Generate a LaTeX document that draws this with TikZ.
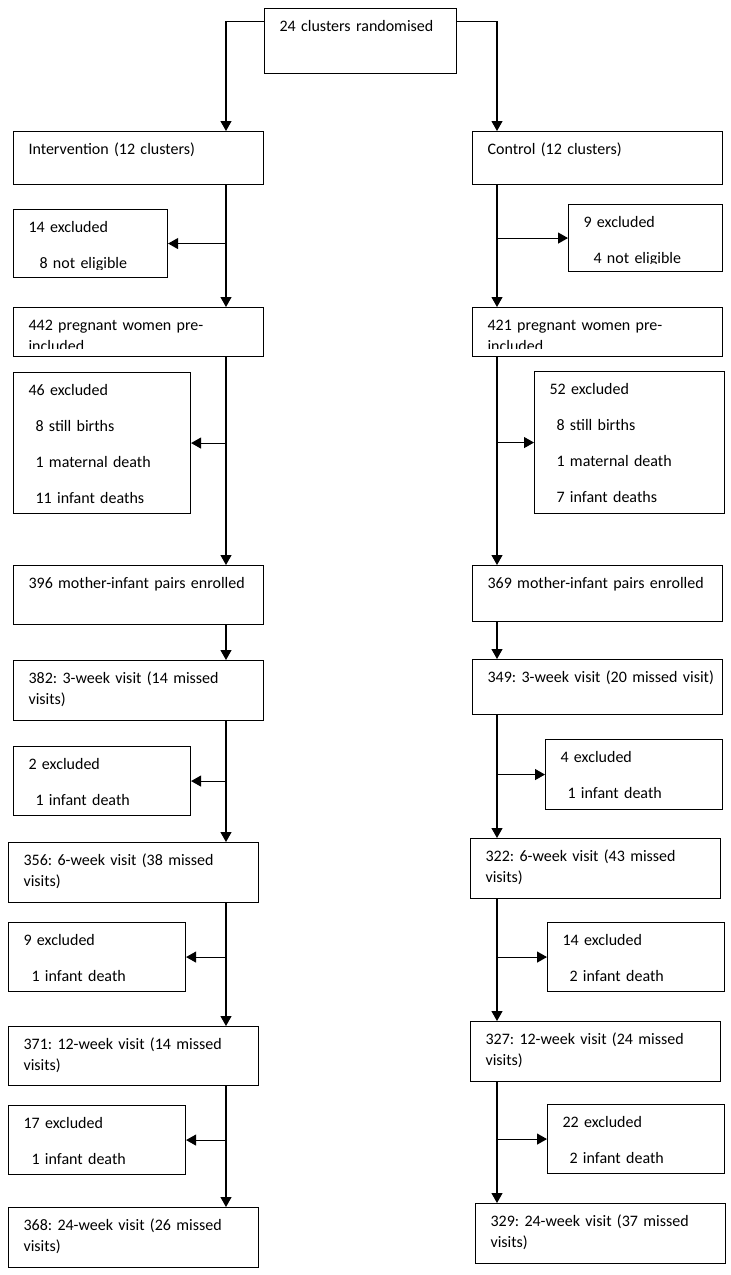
\documentclass[tikz,border=0pt]{standalone}
\usepackage{fontspec}
\setmainfont{Carlito}
\usetikzlibrary{arrows.meta}

\begin{document}
\begin{tikzpicture}[
        x=1pt, y=-1pt,
        font=\fontsize{16}{21}\selectfont\frenchspacing,
        box/.style={rectangle, draw=black, line width=1.1pt, anchor=north west, inner xsep=15pt, inner ysep=0pt, align=left, text height=23pt},
        wide/.style={box, text width=220pt},
        narrow/.style={box, text width=147pt},
        arrow/.style={-{Triangle[width=11pt, length=10pt]}, line width=1.1pt}
    ]
        \useasboundingbox (0,0) rectangle (731,1275);

        % Randomisation
        \node[box, text width=162pt, text depth=42pt] (RAND) at (264,8) {24 clusters randomised};
        \coordinate (LT) at (226,0);
        \coordinate (RT) at (497,0);

        % Intervention arm
        \node[wide, text depth=30pt] (INT) at (13,131) {Intervention (12 clusters)};
        \node[box, text width=124pt, text depth=45pt] (INTX1) at (13,209) {14 excluded\\[15pt]\hspace*{11pt}8 not eligible};
        \node[wide, text depth=26pt] (INTP) at (13,307) {442 pregnant women pre-\\included};
        \node[narrow, text depth=118pt] (INTX2) at (13,372) {46 excluded\\[15pt]\hspace*{7pt}8 still births\\[15pt]\hspace*{7pt}1 maternal death\\[15pt]\hspace*{7pt}11 infant deaths};
        \node[wide, text depth=36pt] (INTE) at (13,565) {396 mother-infant pairs enrolled};
        \node[wide, text depth=37pt] (INT3) at (13,660) {382: 3-week visit (14 missed\\visits)};
        \node[narrow, text depth=46pt] (INTX3) at (13,746) {2 excluded\\[15pt]\hspace*{7pt}1 infant death};
        \node[wide, text depth=37pt] (INT6) at (8,842) {356: 6-week visit (38 missed\\visits)};
        \node[narrow, text depth=46pt] (INTX4) at (8,922) {9 excluded\\[15pt]\hspace*{8pt}1 infant death};
        \node[wide, text depth=36pt] (INT12) at (8,1026) {371: 12-week visit (14 missed\\visits)};
        \node[narrow, text depth=46pt] (INTX5) at (8,1105) {17 excluded\\[15pt]\hspace*{8pt}1 infant death};
        \node[wide, text depth=37pt] (INT24) at (8,1207) {368: 24-week visit (26 missed\\visits)};

        % Control arm
        \node[wide, text depth=30pt] (CTL) at (472,131) {Control (12 clusters)};
        \node[box, text width=124pt, text depth=44pt] (CTLX1) at (568,204) {9 excluded\\[15pt]\hspace*{10pt}4 not eligible};
        \node[wide, text depth=26pt] (CTLP) at (472,307) {421 pregnant women pre-\\included};
        \node[box, text width=160pt, text depth=119pt] (CTLX2) at (534,371) {52 excluded\\[15pt]\hspace*{7pt}8 still births\\[15pt]\hspace*{7pt}1 maternal death\\[15pt]\hspace*{7pt}7 infant deaths};
        \node[wide, text depth=33pt] (CTLE) at (472,565) {369 mother-infant pairs enrolled};
        \node[wide, text depth=32pt] (CTL3) at (472,659) {\mbox{349: 3-week visit (20 missed visit)}};
        \node[narrow, text depth=47pt] (CTLX3) at (545,739) {4 excluded\\[15pt]\hspace*{7pt}1 infant death};
        \node[wide, text depth=37pt] (CTL6) at (470,838) {322: 6-week visit (43 missed\\visits)};
        \node[narrow, text depth=46pt] (CTLX4) at (547,922) {14 excluded\\[15pt]\hspace*{7pt}2 infant death};
        \node[wide, text depth=37pt] (CTL12) at (470,1021) {327: 12-week visit (24 missed\\visits)};
        \node[narrow, text depth=46pt] (CTLX5) at (547,1104) {22 excluded\\[15pt]\hspace*{7pt}2 infant death};
        \node[wide, text depth=37pt] (CTL24) at (475,1203) {329: 24-week visit (37 missed\\visits)};

        % Text cut off at the box bottom
        \fill[white] ([shift={(1pt,1pt)}]INTX1.south west) rectangle ([shift={(-1pt,8.5pt)}]INTX1.south east);
        \fill[white] ([shift={(1pt,1pt)}]CTLX1.south west) rectangle ([shift={(-1pt,8pt)}]CTLX1.south east);
        \fill[white] ([shift={(1pt,1pt)}]INTP.south west) rectangle ([shift={(-1pt,8.5pt)}]INTP.south east);
        \fill[white] ([shift={(1pt,1pt)}]CTLP.south west) rectangle ([shift={(-1pt,8.5pt)}]CTLP.south east);

        % Arrows
        \draw[arrow] ([yshift=19.5pt]RAND.west) -| (INT.north -| LT);
        \draw[arrow] ([yshift=19.5pt]RAND.east) -| (CTL.north -| RT);

        \draw[arrow] (INT.south -| LT) -- (INTP.north -| LT);
        \draw[arrow] (INTX1.east -| LT) -- (INTX1.east);
        \draw[arrow] (INTP.south -| LT) -- (INTE.north -| LT);
        \draw[arrow] (INTX2.east -| LT) -- (INTX2.east);
        \draw[arrow] (INTE.south -| LT) -- (INT3.north -| LT);
        \draw[arrow] (INT3.south -| LT) -- (INT6.north -| LT);
        \draw[arrow] (INTX3.east -| LT) -- (INTX3.east);
        \draw[arrow] (INT6.south -| LT) -- (INT12.north -| LT);
        \draw[arrow] (INTX4.east -| LT) -- (INTX4.east);
        \draw[arrow] (INT12.south -| LT) -- (INT24.north -| LT);
        \draw[arrow] (INTX5.east -| LT) -- (INTX5.east);

        \draw[arrow] (CTL.south -| RT) -- (CTLP.north -| RT);
        \draw[arrow] (CTLX1.west -| RT) -- (CTLX1.west);
        \draw[arrow] (CTLP.south -| RT) -- (CTLE.north -| RT);
        \draw[arrow] (CTLX2.west -| RT) -- (CTLX2.west);
        \draw[arrow] (CTLE.south -| RT) -- (CTL3.north -| RT);
        \draw[arrow] (CTL3.south -| RT) -- (CTL6.north -| RT);
        \draw[arrow] (CTLX3.west -| RT) -- (CTLX3.west);
        \draw[arrow] (CTL6.south -| RT) -- (CTL12.north -| RT);
        \draw[arrow] (CTLX4.west -| RT) -- (CTLX4.west);
        \draw[arrow] (CTL12.south -| RT) -- (CTL24.north -| RT);
        \draw[arrow] (CTLX5.west -| RT) -- (CTLX5.west);
    \end{tikzpicture}
\end{document}
